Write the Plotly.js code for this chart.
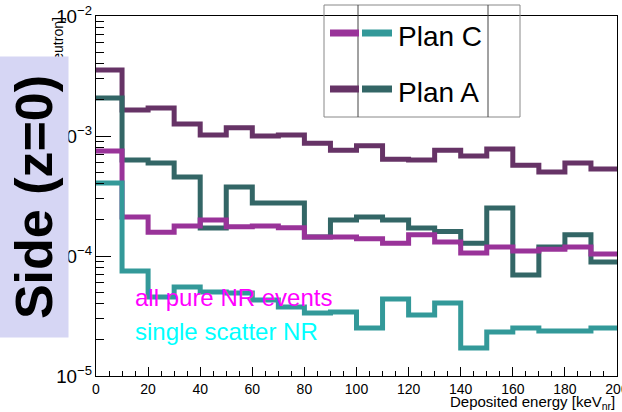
<!DOCTYPE html>
<html>
<head>
<meta charset="utf-8">
<script src="https://cdn.plot.ly/plotly-3.0.1.min.js"></script>
<style>html,body{margin:0;padding:0;background:#fff;overflow:hidden;}#chart{width:622px;height:412px;}</style>
</head>
<body>
<div id="chart"></div>
<script>
// Bin edges of the energy histogram [keVnr]
const binEdges = [0,10,20,30,40,50,60,70,80,90,100,110,120,130,140,150,160,170,180,190,200];
// Plan A, all pure NR events (dark purple)
const planA_all = [3.55e-3,1.65e-3,1.71e-3,1.26e-3,1.02e-3,1.17e-3,1.0e-3,1.02e-3,8.7e-4,7.6e-4,8.3e-4,6.4e-4,6.3e-4,7.6e-4,6.8e-4,7.8e-4,5.7e-4,5.0e-4,5.96e-4,5.3e-4];
// Plan A, single scatter NR (dark teal)
const planA_single = [2.07e-3,6.31e-4,5.96e-4,4.55e-4,1.71e-4,3.76e-4,2.77e-4,2.77e-4,1.44e-4,2.0e-4,2.11e-4,2.0e-4,1.71e-4,1.6e-4,1.28e-4,2.51e-4,6.95e-5,1.19e-4,1.5e-4,8.91e-5];
// Plan C, all pure NR events (magenta)
const planC_all = [7.5e-4,2.11e-4,1.58e-4,1.78e-4,2.0e-4,1.75e-4,1.78e-4,1.72e-4,1.44e-4,1.44e-4,1.39e-4,1.28e-4,1.5e-4,1.31e-4,1.06e-4,1.19e-4,1.1e-4,1.14e-4,1.19e-4,1.04e-4];
// Plan C, single scatter NR (teal)
const planC_single = [4.06e-4,7.5e-5,4.55e-5,5.52e-5,5.01e-5,4.92e-5,4.3e-5,3.76e-5,3.35e-5,3.42e-5,2.51e-5,4.38e-5,3.23e-5,4.06e-5,1.71e-5,2.33e-5,2.51e-5,2.37e-5,2.37e-5,2.51e-5];
const seriesNames = ["Plan A", "Plan C"];

const colors = {aAll:'#663366', aSingle:'#336666', cAll:'#993399', cSingle:'#339999'};

function stepTrace(vals, color, name){
  return {
    x: binEdges,
    y: vals.concat([vals[vals.length-1]]),
    type: 'scatter', mode: 'lines',
    line: {shape: 'hv', color: color, width: 5},
    name: name, showlegend: false, hoverinfo: 'skip'
  };
}

const traces = [
  stepTrace(planA_all, colors.aAll, seriesNames[0]),
  stepTrace(planA_single, colors.aSingle, seriesNames[0]),
  stepTrace(planC_all, colors.cAll, seriesNames[1]),
  stepTrace(planC_single, colors.cSingle, seriesNames[1])
];

// pixel -> paper helpers (plot area: x 96..617, y 16..376)
const L = 96, R = 5, T = 16, B = 36, W = 622, H = 412;
const pw = W - L - R, ph = H - T - B;
const fx = x => (x - L) / pw;
const fy = y => (H - B - y) / ph;

const shapes = [
  {type:'rect', xref:'paper', yref:'paper', x0:fx(324), x1:fx(520), y0:fy(117), y1:fy(5), line:{color:'#888', width:1}, fillcolor:'rgba(0,0,0,0)', layer:'above'},
  {type:'line', xref:'paper', yref:'paper', x0:fx(358), x1:fx(358), y0:fy(117), y1:fy(5), line:{color:'#444', width:1}, layer:'above'},
  {type:'line', xref:'paper', yref:'paper', x0:fx(488), x1:fx(488), y0:fy(117), y1:fy(5), line:{color:'#444', width:1}, layer:'above'},
  {type:'line', xref:'paper', yref:'paper', x0:fx(330), x1:fx(359), y0:fy(33), y1:fy(33), line:{color:colors.cAll, width:7}, layer:'above'},
  {type:'line', xref:'paper', yref:'paper', x0:fx(362), x1:fx(392), y0:fy(33), y1:fy(33), line:{color:colors.cSingle, width:7}, layer:'above'},
  {type:'line', xref:'paper', yref:'paper', x0:fx(330), x1:fx(359), y0:fy(89), y1:fy(89), line:{color:colors.aAll, width:7}, layer:'above'},
  {type:'line', xref:'paper', yref:'paper', x0:fx(362), x1:fx(392), y0:fy(89), y1:fy(89), line:{color:colors.aSingle, width:7}, layer:'above'}
];

const font = 'Liberation Sans, Arial, sans-serif';
const annotations = [
  {text:'Rate [events/keV/neutron]', xref:'paper', yref:'paper', x:fx(58), y:fy(15), xanchor:'center', yanchor:'top', textangle:-90, showarrow:false, font:{family:font, size:14, color:'#000'}},
  {text:'<b>Side (z=0)</b>', xref:'paper', yref:'paper', x:fx(34), y:fy(197), xanchor:'center', yanchor:'middle', textangle:-90, showarrow:false, width:280, height:68, bgcolor:'#d6d6f4', borderpad:0, font:{family:font, size:52, color:'#000'}},
  {text:'Plan C', xref:'paper', yref:'paper', x:fx(396), y:fy(36), xanchor:'left', yanchor:'middle', showarrow:false, font:{family:font, size:28, color:'#000'}},
  {text:'Plan A', xref:'paper', yref:'paper', x:fx(396), y:fy(92), xanchor:'left', yanchor:'middle', showarrow:false, font:{family:font, size:28, color:'#000'}},
  {text:'all pure NR events', xref:'paper', yref:'paper', x:fx(133), y:fy(297), xanchor:'left', yanchor:'middle', showarrow:false, font:{family:font, size:24, color:'#ff00ff'}},
  {text:'single scatter NR', xref:'paper', yref:'paper', x:fx(133), y:fy(331), xanchor:'left', yanchor:'middle', showarrow:false, font:{family:font, size:24, color:'#00ffff'}},
  {text:'Deposited energy [keV<sub>nr</sub>]', xref:'paper', yref:'paper', x:1, y:fy(391), xanchor:'right', yanchor:'top', showarrow:false, font:{family:font, size:15, color:'#000'}}
];

const layout = {
  width: W, height: H,
  margin: {l:L, r:R, t:T, b:B, pad:0},
  paper_bgcolor:'#fff', plot_bgcolor:'#fff',
  showlegend:false,
  font:{family:font, color:'#000'},
  xaxis: {
    range:[0,200], dtick:20, tick0:0, ticks:'inside', ticklen:9, tickcolor:'#000',
    showline:true, linecolor:'#000', linewidth:1, mirror:true, showgrid:false, zeroline:false,
    ticklabeloverflow:'allow',
    tickfont:{family:font, size:14, color:'#000'},
    minor:{dtick:5, ticks:'inside', ticklen:5, tickcolor:'#000', showgrid:false}
  },
  yaxis: {
    type:'log', range:[-5,-2], dtick:1, exponentformat:'power', ticks:'inside', ticklen:15, tickcolor:'#000',
    showline:true, linecolor:'#000', linewidth:1, mirror:true, showgrid:false, zeroline:false,
    ticklabeloverflow:'allow',
    tickfont:{family:font, size:15, color:'#000'},
    minor:{dtick:'D1', ticks:'inside', ticklen:8, tickcolor:'#000', showgrid:false}
  },
  shapes: shapes,
  annotations: annotations
};

Plotly.newPlot('chart', traces, layout, {staticPlot:true, displayModeBar:false});
</script>
</body>
</html>
